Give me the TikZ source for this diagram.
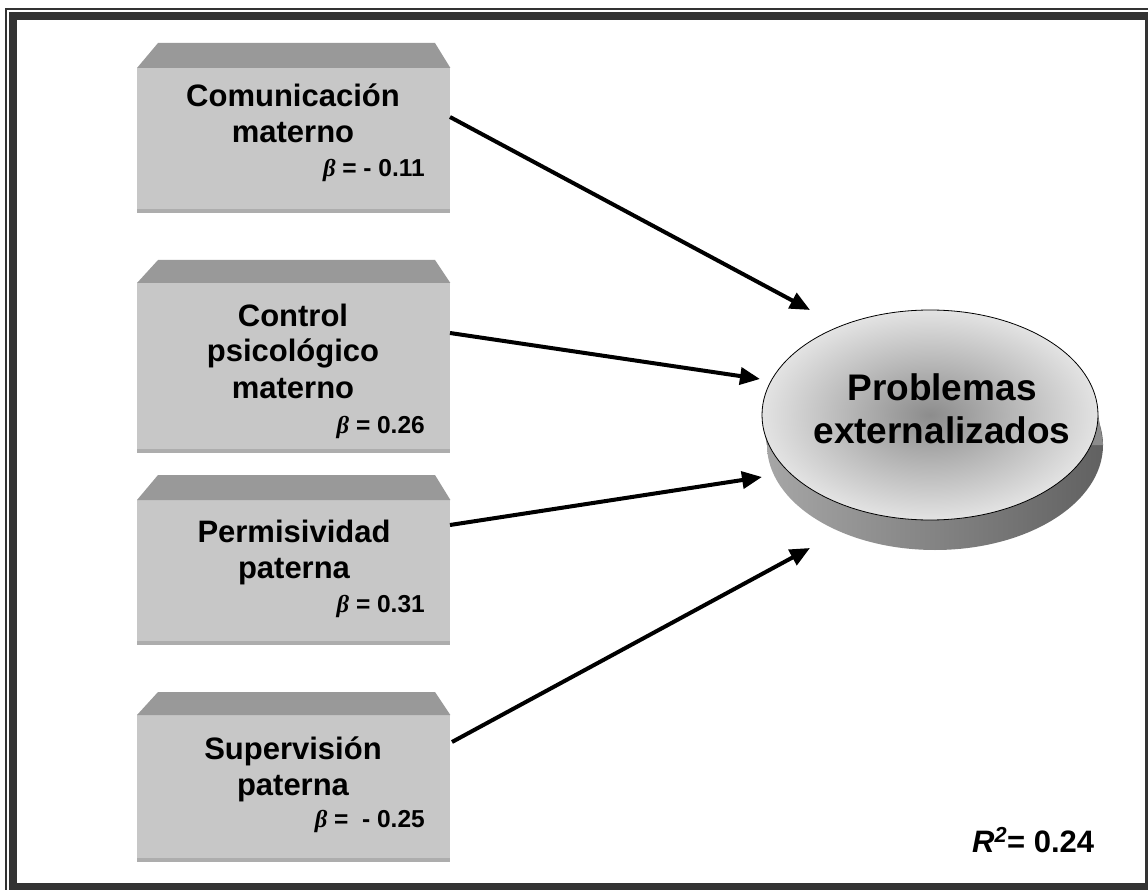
\documentclass[tikz,border=0pt]{standalone}
\usepackage{fontspec}
\setmainfont{Liberation Sans}
\newfontfamily\greekfont{Liberation Serif}
\usetikzlibrary{shapes.geometric,arrows.meta}
\definecolor{framegray}{gray}{0.2}
\definecolor{facegray}{gray}{0.78}
\definecolor{bevelgray}{gray}{0.6}
\definecolor{edgegray}{gray}{0.68}
\newcommand\bet{{\greekfont\itshape β}}
\begin{document}
\begin{tikzpicture}[x=1pt,y=-1pt,
    face/.style={fill=facegray,minimum width=313pt,inner sep=0pt,anchor=north west},
    lbl/.style={font=\fontsize{31}{36}\selectfont\bfseries,align=center,anchor=base},
    coef/.style={font=\fontsize{24.5}{28}\selectfont\bfseries,inner sep=0pt,anchor=base east},
    arr/.style={line width=4pt,-{Triangle[length=20pt,width=17pt]}}]
    \tikzstyle{bevel}=[fill=bevelgray]

    \useasboundingbox (0,0) rectangle (1148,890);
    \clip (0,0) rectangle (1148,890);
    \draw[framegray,line width=2pt] (6,9) rectangle (1160,900);
    \draw[framegray,line width=8pt] (13,16) rectangle (1149,887);

    \node[face,minimum height=145pt] (com) at (137,68) {};
    \fill[bevel] (com.north west) -- ++(21,-25) -- ++(277,0) -- (com.north east) -- cycle;
    \fill[edgegray] ([yshift=4pt]com.south west) rectangle (com.south east);
    \node[face,minimum height=170pt] (ctr) at (137,283) {};
    \fill[bevel] (ctr.north west) -- ++(21,-23) -- ++(277,0) -- (ctr.north east) -- cycle;
    \fill[edgegray] ([yshift=4pt]ctr.south west) rectangle (ctr.south east);
    \node[face,minimum height=145pt] (per) at (137,500) {};
    \fill[bevel] (per.north west) -- ++(21,-25) -- ++(277,0) -- (per.north east) -- cycle;
    \fill[edgegray] ([yshift=4pt]per.south west) rectangle (per.south east);
    \node[face,minimum height=147pt] (sup) at (137,715) {};
    \fill[bevel] (sup.north west) -- ++(21,-23) -- ++(277,0) -- (sup.north east) -- cycle;
    \fill[edgegray] ([yshift=4pt]sup.south west) rectangle (sup.south east);

    \node[lbl] (comtxt) at (293,143) {Comunicación\\materno};
    \node[coef] (combeta) at (425,177) {\bet{} = - 0.11};
    \node[lbl] (ctrtxt) at (293,398) {Control\\psicológico\\materno};
    \node[coef] (ctrbeta) at (425,433) {\bet{} = 0.26};
    \node[lbl] (pertxt) at (294,578) {Permisividad\\paterna};
    \node[coef] (perbeta) at (425,612) {\bet{} = 0.31};
    \node[lbl] (suptxt) at (293,795) {Supervisión\\paterna};
    \node[coef] (supbeta) at (425,827) {\bet{} =\ \ - 0.25};

    \node[ellipse,minimum width=336pt,minimum height=210pt,inner sep=0pt,
        left color=black!35,right color=black!62] (pebot) at (935,445) {};
    \fill[black!45] ([shift={(-5,-30)}]pebot.west) -- (pebot.west) -- (pebot.east)
        -- ([shift={(-5,-30)}]pebot.east) -- cycle;
    \node[ellipse,minimum width=336pt,minimum height=210pt,inner sep=0pt,draw=black,
        line width=0.8pt,inner color=black!45,outer color=black!11] (pe) at (930,415) {};
    \node[font=\fontsize{37}{43}\selectfont\bfseries,align=center,anchor=base]
        (petxt) at (942,443) {Problemas\\externalizados};

    \coordinate (a1) at (450,117);
    \coordinate (h1) at (810,310);
    \coordinate (a2) at (450,333);
    \coordinate (h2) at (760,379);
    \coordinate (a3) at (450,525);
    \coordinate (h3) at (762,477);
    \coordinate (a4) at (452,742);
    \coordinate (h4) at (810,548);
    \draw[arr] (a1) -- (h1);
    \draw[arr] (a2) -- (h2);
    \draw[arr] (a3) -- (h3);
    \draw[arr] (a4) -- (h4);

    \node[font=\fontsize{31}{34}\selectfont\bfseries,inner sep=0pt,anchor=base west] (rsq) at (972,852)
        {{\itshape R\textsuperscript{2}}= 0.24};
  \end{tikzpicture}
\end{document}
